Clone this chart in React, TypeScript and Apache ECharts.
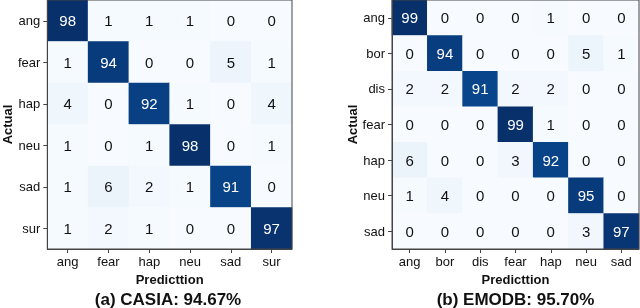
import React, { useEffect, useRef } from "react";
import * as echarts from "echarts";

const casiaLabels = ["ang", "fear", "hap", "neu", "sad", "sur"];
const casiaMatrix = [
  [98, 1, 1, 1, 0, 0],
  [1, 94, 0, 0, 5, 1],
  [4, 0, 92, 1, 0, 4],
  [1, 0, 1, 98, 0, 1],
  [1, 6, 2, 1, 91, 0],
  [1, 2, 1, 0, 0, 97],
];
const emodbLabels = ["ang", "bor", "dis", "fear", "hap", "neu", "sad"];
const emodbMatrix = [
  [99, 0, 0, 0, 1, 0, 0],
  [0, 94, 0, 0, 0, 5, 1],
  [2, 2, 91, 2, 2, 0, 0],
  [0, 0, 0, 99, 1, 0, 0],
  [6, 0, 0, 3, 92, 0, 0],
  [1, 4, 0, 0, 0, 95, 0],
  [0, 0, 0, 0, 0, 3, 97],
];
const titles = ["(a) CASIA: 94.67%", "(b) EMODB: 95.70%"];
const xName = "Predicttion";
const yName = "Actual";

const blues = ["#f7fbff", "#deebf7", "#c6dbef", "#9ecae1", "#6baed6", "#4292c6", "#2171b5", "#08519c", "#08306b"];
const FONT = "Liberation Sans, Arial, sans-serif";

function toData(m: number[][]) {
  const max = Math.max(...m.flat());
  const out: any[] = [];
  m.forEach((row, r) =>
    row.forEach((v, c) => {
      out.push({ value: [c, r, v], label: { color: v > max / 2 ? "#ffffff" : "#111111" } });
    })
  );
  return out;
}

export default function App() {
  const ref = useRef<HTMLDivElement>(null);
  useEffect(() => {
    if (!ref.current) return;
    const chart = echarts.init(ref.current, null, { renderer: "svg" });
    const grids = [
      { left: 44, top: 0, width: 248, height: 249 },
      { left: 392, top: 0, width: 247, height: 249 },
    ];
    const labelsArr = [casiaLabels, emodbLabels];
    const mats = [casiaMatrix, emodbMatrix];
    const axisCommon = {
      axisLine: { show: true, lineStyle: { color: "#444", width: 1 } },
      axisTick: { show: true, length: 4, alignWithLabel: true, lineStyle: { color: "#444" } },
      splitArea: { show: false },
      splitLine: { show: false },
      z: 10,
    };
    chart.setOption({
      animation: false,
      textStyle: { fontFamily: FONT },
      grid: grids.map((g) => ({ ...g, show: true, borderColor: "#444", borderWidth: 1, z: 10, backgroundColor: "transparent" })),
      xAxis: labelsArr.map((l, i) => ({
        type: "category",
        gridIndex: i,
        data: l,
        position: "bottom",
        ...axisCommon,
        axisLabel: { color: "#111", fontSize: 13, margin: 6, fontFamily: FONT },
        name: xName,
        nameLocation: "middle",
        nameGap: 21,
        nameTextStyle: { fontWeight: "bold", fontSize: 13, color: "#111", fontFamily: FONT },
      })),
      yAxis: labelsArr.map((l, i) => ({
        type: "category",
        gridIndex: i,
        data: l,
        inverse: true,
        ...axisCommon,
        axisLabel: { color: "#111", fontSize: 13, margin: 7, fontFamily: FONT },
        name: yName,
        nameLocation: "middle",
        nameGap: i === 0 ? 26 : 31,
        nameTextStyle: { fontWeight: "bold", fontSize: 13, color: "#111", fontFamily: FONT },
      })),
      visualMap: mats.map((m, i) => ({
        type: "continuous",
        show: false,
        seriesIndex: i,
        dimension: 2,
        min: 0,
        max: Math.max(...m.flat()),
        inRange: { color: blues },
      })),
      series: mats.map((m, i) => ({
        type: "heatmap",
        xAxisIndex: i,
        yAxisIndex: i,
        data: toData(m),
        label: { show: true, fontSize: 15, fontFamily: FONT, formatter: (p: any) => String(p.value[2]) },
        itemStyle: { borderWidth: 0 },
        emphasis: { disabled: true },
      })),
      graphic: titles.map((t, i) => ({
        type: "text",
        x: grids[i].left + grids[i].width / 2,
        y: 299,
        style: {
          text: t,
          fontSize: 17,
          fontWeight: "bold",
          fontFamily: FONT,
          fill: "#111",
          align: "center",
          verticalAlign: "middle",
        },
      })),
    });
    return () => chart.dispose();
  }, []);
  return <div ref={ref} style={{ position: "fixed", left: 0, top: 0, width: 640, height: 308 }} />;
}
